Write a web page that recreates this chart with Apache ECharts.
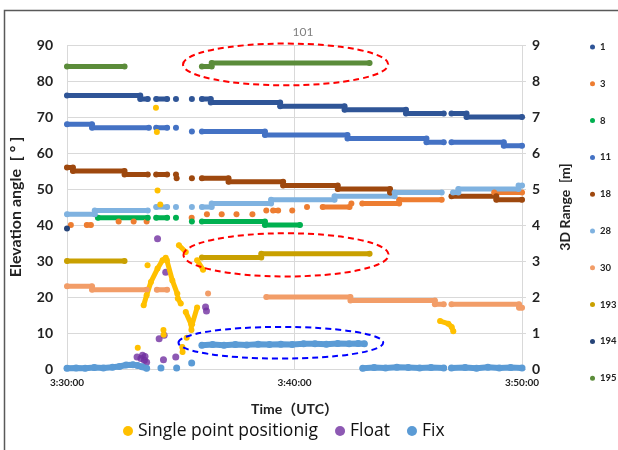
<!DOCTYPE html>
<html>
<head>
<meta charset="utf-8">
<script src="https://cdn.jsdelivr.net/npm/echarts@6/dist/echarts.min.js"></script>
<style>html,body{margin:0;padding:0;background:#fff}#chart{width:618px;height:450px}</style>
</head>
<body>
<div id="chart"></div>
<script>
// x = minutes after 3:00 UTC. satellite runs: [start, end, elevation deg]
const timeTicks = [30, 40, 50];
const satNames = ['1', '3', '8', '11', '18', '28', '30', '193', '194', '195'];

const sat1 = [[30, 33.22, 76], [33.22, 33.55, 75], [33.92, 34.4, 75], [34.79, 34.79, 75], [35.49, 35.49, 75],
  [35.93, 36.32, 75], [36.32, 39.37, 74], [39.37, 42.2, 73], [42.2, 44.9, 72], [44.9, 46.56, 71],
  [46.9, 47.56, 71], [47.56, 50, 70]];
const sat3 = [[30.17, 30.17, 40], [30.87, 31.05, 40], [32.27, 32.27, 41], [32.93, 32.93, 41], [33.5, 33.5, 41],
  [35.48, 35.48, 42], [36.15, 36.15, 43], [36.8, 36.8, 43], [37.45, 37.45, 43], [38.15, 38.15, 43],
  [38.76, 38.76, 44], [39.06, 39.28, 44], [39.9, 39.9, 44], [40.55, 40.55, 45], [41.24, 42.42, 45],
  [42.5, 42.5, 46], [42.98, 44.6, 46], [44.6, 46.47, 47], [48.78, 50, 49]];
const sat8 = [[31.36, 33.55, 42], [33.92, 34.4, 42], [34.79, 34.79, 42], [35.49, 35.49, 41], [35.93, 38.7, 41],
  [38.7, 40.24, 40]];
const sat11 = [[30, 31.1, 68], [31.1, 33.6, 67], [33.92, 34.4, 67], [34.79, 34.79, 67], [35.49, 35.49, 66],
  [35.93, 38.7, 66], [38.7, 42.33, 65], [42.33, 45.8, 64], [45.8, 46.56, 63], [46.9, 49.2, 63], [49.2, 50, 62]];
const sat18 = [[30, 30.26, 56], [30.26, 32.53, 55], [32.53, 33.55, 54], [33.92, 34.4, 54], [34.79, 34.79, 54],
  [34.82, 34.82, 53], [35.49, 35.49, 53], [35.93, 37.1, 53], [37.1, 39.5, 52], [39.5, 41.9, 51],
  [41.9, 44.2, 50], [44.2, 44.25, 49], [46.9, 48.87, 48], [48.87, 50, 47]];
const sat28 = [[30, 31.22, 43], [31.22, 33.55, 44], [33.92, 34.4, 45], [34.79, 34.79, 45], [35.49, 35.49, 45],
  [35.93, 36.36, 45], [36.36, 38.97, 46], [38.97, 41.76, 47], [41.76, 44.4, 48], [44.4, 46.47, 49],
  [46.97, 47.2, 49], [47.2, 49.85, 50], [49.85, 50, 51]];
const sat30 = [[30, 31.1, 23], [31.1, 33.5, 22], [33.95, 34.4, 22], [36.2, 36.2, 21], [38.76, 42.46, 20],
  [42.46, 46.17, 19], [46.17, 46.56, 18], [46.9, 49.87, 18], [49.87, 50, 17]];
const sat193 = [[30, 32.53, 30], [35.93, 38.54, 31], [38.54, 43.3, 32]];
const sat194 = [[30, 30, 39]];
const sat195 = [[30, 32.53, 84], [35.93, 36.36, 84], [36.36, 43.3, 85]];

// positioning results, 3D range in m (right axis); each inner list is one dense run of epochs
const singlePts = [
  [[33.11, 0.59]], [[33.54, 2.88]],
  [[33.37, 1.77], [33.5, 2.05], [33.69, 2.42], [33.98, 2.79], [34.2, 3.02], [34.34, 3.09]],
  [[34.39, 3.02], [34.63, 2.46], [34.85, 2.09]],
  [[34.87, 1.96], [35.0, 1.82]],
  [[35.22, 1.58], [35.46, 1.24], [35.47, 1.08]],
  [[35.72, 1.71], [35.5, 1.24]],
  [[34.92, 3.44], [35.22, 3.25]],
  [[35.72, 3.02], [35.98, 2.76]],
  [[35.26, 0.87]], [[35.07, 0.61], [35.08, 0.47]],
  [[34.24, 1.08]], [[34.25, 0.95]],
  [[33.91, 7.26]], [[33.95, 6.58]], [[33.98, 4.96]], [[34.1, 4.57]],
  [[46.4, 1.33], [46.76, 1.26], [46.91, 1.17], [46.98, 1.05]]
];
const floatPts = [[33.08, 0.33], [33.25, 0.29], [33.32, 0.38], [33.4, 0.24], [33.43, 0.35], [33.5, 0.19],
  [34.24, 0.26], [34.78, 0.33], [34.05, 0.84], [34.27, 0.94], [33.98, 3.62], [34.34, 2.69],
  [36.09, 1.72], [36.13, 1.61]];
const fixPts = [
  [[30, 0.02], [30.4, 0.03], [30.8, 0.02], [31.2, 0.04], [31.6, 0.03], [32, 0.05], [32.3, 0.07], [32.6, 0.11],
   [32.9, 0.12], [33.1, 0.1], [33.3, 0.06], [33.5, 0.02]],
  [[34.13, 0.03]], [[34.82, 0.03]], [[35.48, 0.17]],
  [[35.93, 0.66], [36.4, 0.68], [36.9, 0.66], [37.4, 0.68], [37.9, 0.67], [38.4, 0.69], [38.9, 0.68],
   [39.4, 0.69], [39.9, 0.68], [40.4, 0.7], [40.9, 0.7], [41.4, 0.69], [41.9, 0.71], [42.4, 0.7],
   [42.8, 0.71], [43.07, 0.7]],
  [[43.0, 0.02], [43.5, 0.04], [44, 0.03], [44.5, 0.05], [45, 0.04], [45.5, 0.03], [46, 0.04], [46.56, 0.03]],
  [[46.9, 0.03], [47.5, 0.04], [48, 0.02], [48.5, 0.05], [49, 0.03], [49.5, 0.04], [50, 0.03]]
];

const satRuns = [sat1, sat3, sat8, sat11, sat18, sat28, sat30, sat193, sat194, sat195];
const satColors = ['#2F5597', '#ED7D31', '#00B050', '#4472C4', '#9E480E', '#7FB2E0', '#F29D68', '#C9A000', '#264478', '#5B8C3A'];

const FONT = 'Lato, "Noto Sans CJK JP", sans-serif';

function runsToLine(runs) {
  const out = [];
  let prevEnd = null;
  runs.forEach(([a, b, v]) => {
    if (prevEnd !== null && prevEnd !== a) out.push(null);
    out.push([a, v]);
    if (b !== a) out.push([b, v]);
    prevEnd = b;
  });
  return out;
}
function segsToLine(segs) {
  const out = [];
  segs.forEach((s, i) => { if (i) out.push(null); out.push(...s); });
  return out;
}
function lineSeries(name, data, color, axis, w = 5) {
  return {
    type: 'line', name, data, yAxisIndex: axis, connectNulls: false,
    symbol: 'circle', symbolSize: w + 1, showSymbol: true, silent: true,
    lineStyle: { width: w, color, cap: 'round', join: 'round' },
    itemStyle: { color, borderWidth: 0 },
  };
}

const chart = echarts.init(document.getElementById('chart'));
chart.setOption({
  animation: false,
  textStyle: { fontFamily: FONT },
  grid: { left: 62, right: 96, top: 45, bottom: 81 },
  legend: [
    { data: satNames, orient: 'vertical', left: 590, top: 41, padding: 0, itemWidth: 5, itemHeight: 5, icon: 'circle',
      itemGap: 24.8, textStyle: { fontSize: 9.5, fontWeight: 'bold', color: '#222', lineHeight: 12 } },
    { data: ['Single point positionig', 'Float', 'Fix'], left: 123, top: 422, padding: 0, icon: 'circle',
      itemWidth: 10, itemHeight: 10, itemGap: 17,
      textStyle: { fontSize: 17.5, color: '#111', fontFamily: '"Open Sans", sans-serif' } },
  ],
  xAxis: {
    type: 'value', min: timeTicks[0], max: timeTicks[2], interval: 10,
    name: 'Time（UTC）', nameLocation: 'middle', nameGap: 33,
    nameTextStyle: { fontSize: 14, fontWeight: 'bold', color: '#222' },
    axisLine: { show: false }, axisTick: { show: false },
    axisLabel: { formatter: v => '3:' + v + ':00', fontSize: 10, fontWeight: 'bold', color: '#222', margin: 9 },
    splitLine: { show: true, lineStyle: { color: '#D9D9D9' } },
  },
  yAxis: [
    { type: 'value', min: 0, max: 90, interval: 10,
      name: 'Elevation angle  [ ° ]', nameLocation: 'middle', nameGap: 43,
      nameTextStyle: { fontSize: 16, fontWeight: 'bold', color: '#222' },
      axisLine: { show: false }, axisTick: { show: false },
      axisLabel: { fontSize: 14, fontWeight: 'bold', color: '#222', margin: 14 },
      splitLine: { lineStyle: { color: '#D9D9D9' } } },
    { type: 'value', min: 0, max: 9, interval: 1, position: 'right',
      name: '3D Range  [m]', nameLocation: 'middle', nameGap: 36, nameRotate: 90,
      nameTextStyle: { fontSize: 14, fontWeight: 'bold', color: '#222' },
      axisLine: { show: false }, axisTick: { show: true, length: 4, lineStyle: { color: '#D9D9D9' } },
      axisLabel: { fontSize: 14, fontWeight: 'bold', color: '#222', margin: 10 },
      splitLine: { show: false } },
  ],
  series: [
    ...satNames.map((n, i) => lineSeries(n, runsToLine(satRuns[i]), satColors[i], 0)),
    lineSeries('Single point positionig', segsToLine(singlePts), '#FFC000', 1),
    { type: 'scatter', name: 'Float', data: floatPts, yAxisIndex: 1, symbolSize: 7, silent: true,
      itemStyle: { color: '#7030A0' } },
    lineSeries('Fix', segsToLine(fixPts), '#5B9BD5', 1, 6),
  ],
});

// annotation ellipses, given in data units: [centre time, centre deg, half-width min, half-height deg]
const ellipses = [
  [39.61, 84.6, 4.51, 5.8, '#FF0000'],
  [39.63, 31.7, 4.51, 6.0, '#FF0000'],
  [39.4, 7.3, 4.5, 4.4, '#0000FF'],
];
const px = p => chart.convertToPixel({ xAxisIndex: 0, yAxisIndex: 0 }, p);
chart.setOption({
  graphic: [
    { type: 'rect', shape: { x: 4.5, y: 10.5, width: 700, height: 600 }, silent: true,
      style: { fill: 'none', stroke: '#595959', lineWidth: 1.5 } },
    { type: 'text', x: 303, y: 32, silent: true,
      style: { text: '101', fill: '#808080', fontSize: 12, fontFamily: FONT, align: 'center', verticalAlign: 'middle' } },
    ...ellipses.map(([t, d, dt, dd, c]) => {
      const ctr = px([t, d]), ex = px([t + dt, d]), ey = px([t, d + dd]);
      return { type: 'ellipse', silent: true, z: 100,
        shape: { cx: ctr[0], cy: ctr[1], rx: ex[0] - ctr[0], ry: ctr[1] - ey[1] },
        style: { fill: 'none', stroke: c, lineWidth: 2, lineDash: [6, 4] } };
    }),
  ],
});
</script>
</body>
</html>
